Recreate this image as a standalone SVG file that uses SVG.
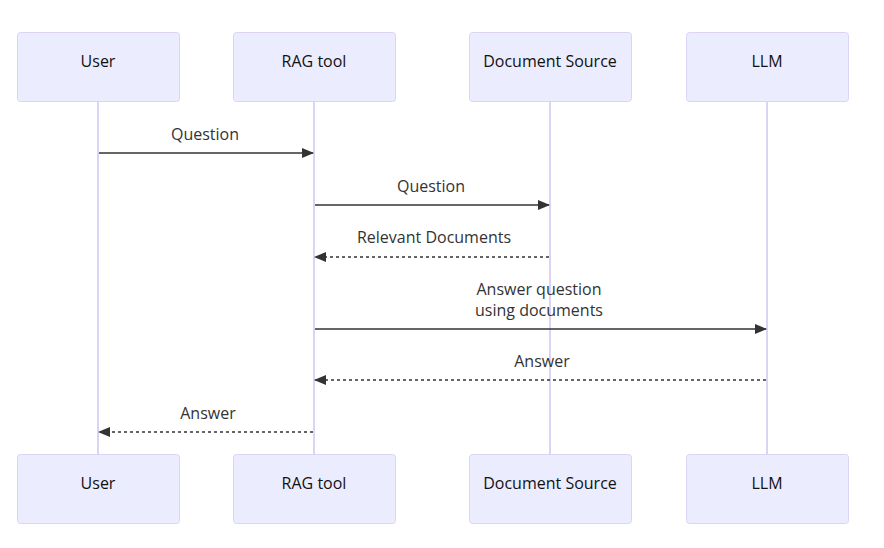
<svg xmlns="http://www.w3.org/2000/svg" width="884" height="548" viewBox="0 0 884 548">
<style>
.actor{fill:#ECECFF;stroke:#DCD3F5;stroke-width:1}
.at{font-family:"Open Sans","Liberation Sans",sans-serif;font-size:16px;fill:#111;text-anchor:middle;dominant-baseline:central}
.life{stroke:#DCD3F5;stroke-width:2}
.msg{stroke:#333;stroke-width:1.6;fill:none}
.dash{stroke-dasharray:3,3}
.mt{font-family:"Open Sans","Liberation Sans",sans-serif;font-size:16px;fill:#333;text-anchor:middle}
</style>
<defs>
<marker id="ah" viewBox="0 0 12 10" refX="11" refY="5" markerWidth="12" markerHeight="10" markerUnits="userSpaceOnUse" orient="auto">
<path d="M0,0 L12,5 L0,10 z" fill="#333"/>
</marker>
</defs>
<rect width="884" height="548" fill="#fff"/>
<g id="lifelines">
<line class="life" x1="98" y1="101" x2="98" y2="454"/>
<line class="life" x1="314" y1="101" x2="314" y2="454"/>
<line class="life" x1="550" y1="101" x2="550" y2="454"/>
<line class="life" x1="767" y1="101" x2="767" y2="454"/>
</g>
<g id="user-top"><rect class="actor" x="17.5" y="32.5" width="162" height="69" rx="3"/><text class="at" x="98" y="61">User</text></g>
<g id="rag-top"><rect class="actor" x="233.5" y="32.5" width="162" height="69" rx="3"/><text class="at" x="314" y="61">RAG tool</text></g>
<g id="doc-top"><rect class="actor" x="469.5" y="32.5" width="162" height="69" rx="3"/><text class="at" x="550" y="61">Document Source</text></g>
<g id="llm-top"><rect class="actor" x="686.5" y="32.5" width="162" height="69" rx="3"/><text class="at" x="767" y="61">LLM</text></g>
<g id="user-bottom"><rect class="actor" x="17.5" y="454.5" width="162" height="69" rx="3"/><text class="at" x="98" y="483">User</text></g>
<g id="rag-bottom"><rect class="actor" x="233.5" y="454.5" width="162" height="69" rx="3"/><text class="at" x="314" y="483">RAG tool</text></g>
<g id="doc-bottom"><rect class="actor" x="469.5" y="454.5" width="162" height="69" rx="3"/><text class="at" x="550" y="483">Document Source</text></g>
<g id="llm-bottom"><rect class="actor" x="686.5" y="454.5" width="162" height="69" rx="3"/><text class="at" x="767" y="483">LLM</text></g>
<g id="connectors">
<line class="msg" x1="99" y1="153" x2="313" y2="153" marker-end="url(#ah)"/>
<text class="mt" x="205" y="140">Question</text>
<line class="msg" x1="315" y1="205" x2="549" y2="205" marker-end="url(#ah)"/>
<text class="mt" x="431" y="192">Question</text>
<line class="msg dash" x1="549" y1="257" x2="315" y2="257" marker-end="url(#ah)"/>
<text class="mt" x="434" y="243">Relevant Documents</text>
<line class="msg" x1="315" y1="329" x2="766" y2="329" marker-end="url(#ah)"/>
<text class="mt" x="539" y="295">Answer question</text>
<text class="mt" x="539" y="316">using documents</text>
<line class="msg dash" x1="766" y1="380" x2="315" y2="380" marker-end="url(#ah)"/>
<text class="mt" x="542" y="367">Answer</text>
<line class="msg dash" x1="313" y1="432" x2="99" y2="432" marker-end="url(#ah)"/>
<text class="mt" x="208" y="419">Answer</text>
</g>
</svg>
